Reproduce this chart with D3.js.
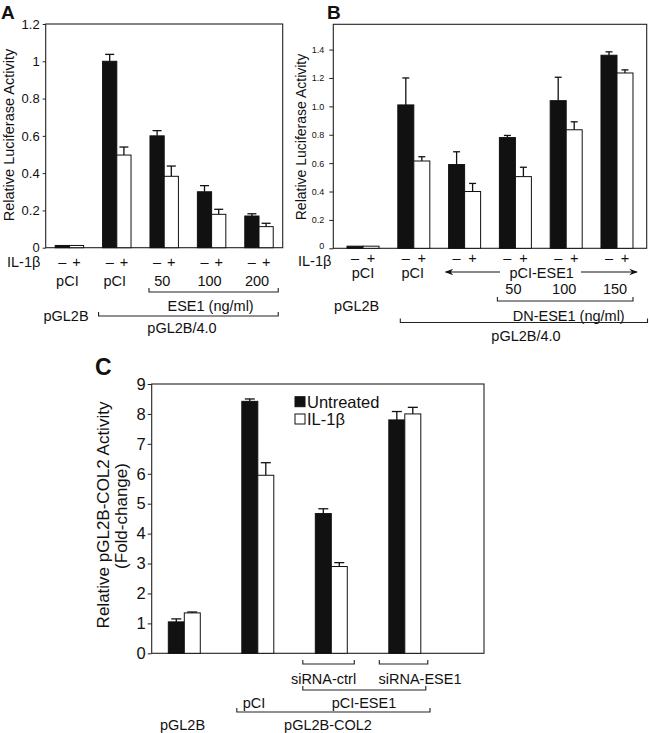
<!DOCTYPE html>
<html>
<head>
<meta charset="utf-8">
<script src="https://cdn.jsdelivr.net/npm/d3@7"></script>
<style>
  html, body { margin: 0; padding: 0; background: #fff; }
  svg { display: block; font-family: "Liberation Sans", Arial, Helvetica, sans-serif; }
  text { fill: #111; }
</style>
</head>
<body>
<svg id="chart" width="649" height="733"></svg>
<script>
// ---------- Panel A data ----------
const groupsA = ["pCI", "pCI", "50", "100", "200"];
const untreatedA = [0.012, 1.0, 0.6, 0.3, 0.17];
const untreatedErrA = [0, 0.037, 0.028, 0.033, 0.012];
const il1bA = [0.012, 0.497, 0.383, 0.179, 0.113];
const il1bErrA = [0, 0.043, 0.055, 0.027, 0.018];
const ticksA = [0, 0.2, 0.4, 0.6, 0.8, 1, 1.2];

// ---------- Panel B data ----------
const groupsB = ["pCI", "pCI", "pCI-ESE1", "50", "100", "150"];
const untreatedB = [0.015, 1.01, 0.59, 0.78, 1.04, 1.36];
const untreatedErrB = [0, 0.19, 0.09, 0.015, 0.165, 0.024];
const il1bB = [0.015, 0.615, 0.40, 0.505, 0.835, 1.235];
const il1bErrB = [0, 0.03, 0.057, 0.066, 0.056, 0.022];
const ticksB = [0, 0.2, 0.4, 0.6, 0.8, 1.0, 1.2, 1.4];

// ---------- Panel C data ----------
const groupsC = ["pGL2B", "pCI", "siRNA-ctrl", "siRNA-ESE1"];
const untreatedC = [1.05, 8.42, 4.67, 7.8];
const untreatedErrC = [0.1, 0.08, 0.16, 0.28];
const il1bC = [1.35, 5.95, 2.9, 8.0];
const il1bErrC = [0.03, 0.42, 0.13, 0.22];
const ticksC = [0, 1, 2, 3, 4, 5, 6, 7, 8, 9];
const legendC = ["Untreated", "IL-1\u03b2"];

const svg = d3.select("#chart");
svg.append("rect").attr("width", 649).attr("height", 733).attr("fill", "#fff");

function drawPanel(opts) {
  const g = svg.append("g");
  const { x0, x1, y0, y1, yMax, groups, u, ue, w, we, ticks, tickFmt, tickFont, tickSize, tickPad,
          pi, po, rangeEnd, capW } = opts;
  const y = d3.scaleLinear().domain([0, yMax]).range([y1, y0]);
  const x = d3.scaleBand().domain(d3.range(groups.length)).range([x0, rangeEnd || x1])
    .paddingInner(pi).paddingOuter(po);
  const sub = d3.scaleBand().domain([0, 1]).range([0, x.bandwidth()]);
  g.append("rect").attr("x", x0).attr("y", y0).attr("width", x1 - x0).attr("height", y1 - y0)
    .attr("fill", "none").attr("stroke", "#222").attr("stroke-width", 1.1);
  const ax = g.append("g").attr("class", "yaxis").attr("transform", `translate(${x0},0)`)
    .call(d3.axisLeft(y).tickValues(ticks).tickFormat(tickFmt).tickSize(tickSize).tickPadding(tickPad).tickSizeOuter(0));
  ax.select(".domain").remove();
  ax.selectAll("line").attr("stroke", "#222");
  ax.selectAll("text").attr("font-size", tickFont).attr("fill", "#222").attr("font-family", null);
  const series = [{ v: u, e: ue, fill: "#111" }, { v: w, e: we, fill: "#fff" }];
  series.forEach((s, si) => {
    const bx = i => x(i) + sub(si);
    g.selectAll(null).data(s.v).enter().append("rect")
      .attr("x", (d, i) => bx(i)).attr("width", sub.bandwidth())
      .attr("y", d => y(d)).attr("height", d => y(0) - y(d))
      .attr("fill", s.fill).attr("stroke", "#111").attr("stroke-width", 1);
    s.v.forEach((d, i) => {
      if (!s.e[i]) return;
      const cx = bx(i) + sub.bandwidth() / 2;
      g.append("line").attr("x1", cx).attr("x2", cx).attr("y1", y(d)).attr("y2", y(d + s.e[i]))
        .attr("stroke", "#111").attr("stroke-width", 1.3);
      g.append("line").attr("x1", cx - capW / 2).attr("x2", cx + capW / 2)
        .attr("y1", y(d + s.e[i])).attr("y2", y(d + s.e[i]))
        .attr("stroke", "#111").attr("stroke-width", 1.3);
    });
  });
  return { x, y, sub, g, ax };
}

function txt(x, y, s, size, anchor, extra) {
  const t = svg.append("text").attr("x", x).attr("y", y).text(s)
    .attr("font-size", size).attr("text-anchor", anchor || "middle")
    .attr("dominant-baseline", "central");
  if (extra) extra(t);
  return t;
}
function bracket(xa, xb, yy, up) {
  const h = up === undefined ? 4 : up;
  svg.append("path").attr("d", `M${xa},${yy - h}V${yy}H${xb}V${yy - h}`)
    .attr("fill", "none").attr("stroke", "#222").attr("stroke-width", 1.1);
}

// ================= Panel A =================
const A = drawPanel({
  x0: 45.7, x1: 282.7, y0: 24, y1: 247.7, yMax: 1.2,
  groups: groupsA, u: untreatedA, ue: untreatedErrA, w: il1bA, we: il1bErrA,
  ticks: ticksA, tickFmt: d3.format("~g"), tickFont: 13, tickSize: 3, tickPad: 3,
  pi: 0.4, po: 0.2, capW: 9
});
svg.append("text").attr("x", 1).attr("y", 18.5).text("A").attr("font-size", 19).attr("font-weight", "bold");
txt(9, 135, "Relative Luciferase Activity", 14.5, "middle", t => t.attr("transform", "rotate(-90,9,135)"));
txt(7, 262, "IL-1\u03b2", 14.5, "start");
groupsA.forEach((lab, i) => {
  const c0 = A.x(i) + A.sub(0) + A.sub.bandwidth() / 2;
  const c1 = A.x(i) + A.sub(1) + A.sub.bandwidth() / 2;
  txt(c0, 262, "\u2013", 14.5);
  txt(c1, 262, "+", 14.5);
  txt(A.x(i) + A.x.bandwidth() / 2 - 2, 281, lab, 14.5);
});
{
  const bs = A.x(2) - 1, be = A.x(4) + A.x.bandwidth() + 5;
  bracket(bs, be, 292);
  txt((bs + be) / 2 - 3, 306, "ESE1 (ng/ml)", 14.5);
  const ls = A.x(1) - 4;
  bracket(ls, be, 316);
  txt(66, 316, "pGL2B", 14.5);
  txt(182, 328, "pGL2B/4.0", 14.5);
}

// ================= Panel B =================
const B = drawPanel({
  x0: 333.3, x1: 646.7, y0: 24.3, y1: 248.3, yMax: 1.578,
  groups: groupsB, u: untreatedB, ue: untreatedErrB, w: il1bB, we: il1bErrB,
  ticks: ticksB, tickFmt: d => d === 0 ? "0" : d3.format(".1f")(d), tickFont: 9, tickSize: 4, tickPad: 5,
  pi: 0.37, po: 0.27, capW: 7
});
// nudge the zero label up slightly so it clears the IL-1β row label
B.ax.selectAll(".tick").filter(d => d === 0).select("text").attr("dy", "0.05em");
svg.append("text").attr("x", 327).attr("y", 18.5).text("B").attr("font-size", 19).attr("font-weight", "bold");
txt(300.5, 137, "Relative Luciferase Activity", 14, "middle", t => t.attr("transform", "rotate(-90,300.5,137)"));
txt(298, 260.5, "IL-1\u03b2", 14.5, "start");
groupsB.forEach((lab, i) => {
  const c0 = B.x(i) + B.sub(0) + B.sub.bandwidth() / 2;
  const c1 = B.x(i) + B.sub(1) + B.sub.bandwidth() / 2;
  txt(c0, 258, "\u2013", 14.5);
  txt(c1, 258, "+", 14.5);
});
svg.append("defs").append("marker").attr("id", "arr").attr("viewBox", "0 0 10 10")
  .attr("refX", 9).attr("refY", 5).attr("markerWidth", 9).attr("markerHeight", 7)
  .attr("orient", "auto-start-reverse")
  .append("path").attr("d", "M0,1L10,5L0,9L3,5Z").attr("fill", "#111");
{
  const mid = (i) => B.x(i) + B.x.bandwidth() / 2;
  txt(mid(0), 273, groupsB[0], 14.5);
  txt(mid(1) - 1, 273, groupsB[1], 14.5);
  txt(541.7, 273, groupsB[2], 14.5);
  svg.append("line").attr("x1", 500).attr("x2", B.x(2) - 3).attr("y1", 272).attr("y2", 272)
    .attr("stroke", "#111").attr("stroke-width", 1.2).attr("marker-end", "url(#arr)");
  svg.append("line").attr("x1", 581).attr("x2", B.x(5) + B.x.bandwidth() + 4).attr("y1", 272).attr("y2", 272)
    .attr("stroke", "#111").attr("stroke-width", 1.2).attr("marker-end", "url(#arr)");
  [3, 4, 5].forEach(i => txt(mid(i) - 2, 289, groupsB[i], 14.5));
  const bs = B.x(3) - 2, be = B.x(5) + B.x.bandwidth();
  bracket(bs, be, 301);
  txt(568.7, 316, "DN-ESE1 (ng/ml)", 14.5);
  txt(356.7, 306, "pGL2B", 14.5);
  bracket(B.x(1) + 2.5, 647.5, 322.5);
  txt(526, 336, "pGL2B/4.0", 14.5);
}

// ================= Panel C =================
const C = drawPanel({
  x0: 151.7, x1: 484, y0: 384, y1: 653.3, yMax: 9,
  groups: groupsC, u: untreatedC, ue: untreatedErrC, w: il1bC, we: il1bErrC,
  ticks: ticksC, tickFmt: d3.format("d"), tickFont: 16.5, tickSize: 4, tickPad: 2,
  pi: 0.565, po: 0.226, rangeEnd: 437.4, capW: 10
});
svg.append("text").attr("x", 95).attr("y", 375).text("C").attr("font-size", 23).attr("font-weight", "bold");
txt(103.3, 515, "Relative pGL2B-COL2 Activity", 17, "middle", t => t.attr("transform", "rotate(-90,103.3,515)"));
txt(121.7, 516, "(Fold-change)", 17, "middle", t => t.attr("transform", "rotate(-90,121.7,516)"));
[["#111", 396.7], ["#fff", 414]].forEach((d, i) => {
  svg.append("rect").attr("x", 295).attr("y", d[1]).attr("width", 10).attr("height", 10)
    .attr("fill", d[0]).attr("stroke", "#111").attr("stroke-width", 1);
  txt(307, d[1] + 5, legendC[i], 16.5, "start");
});
{
  const s2 = C.x(2) - 12.5, e2 = C.x(2) + C.x.bandwidth() + 7;
  bracket(s2, e2, 664);
  txt((s2 + e2) / 2 - 5, 679, groupsC[2], 14.5);
  const s3 = C.x(3) - 9.5, e3 = C.x(3) + C.x.bandwidth() + 7;
  bracket(s3, e3, 664);
  txt(420, 679, groupsC[3], 14.5);
  bracket(s2, e3 - 2, 690);
  txt(254, 703, groupsC[1], 14.5);
  txt(364, 703, "pCI-ESE1", 14.5);
  bracket(C.x(1) - 5, 430, 712);
  txt(182.5, 725, groupsC[0], 14.5);
  txt(328, 725, "pGL2B-COL2", 14.5);
}
</script>
</body>
</html>
